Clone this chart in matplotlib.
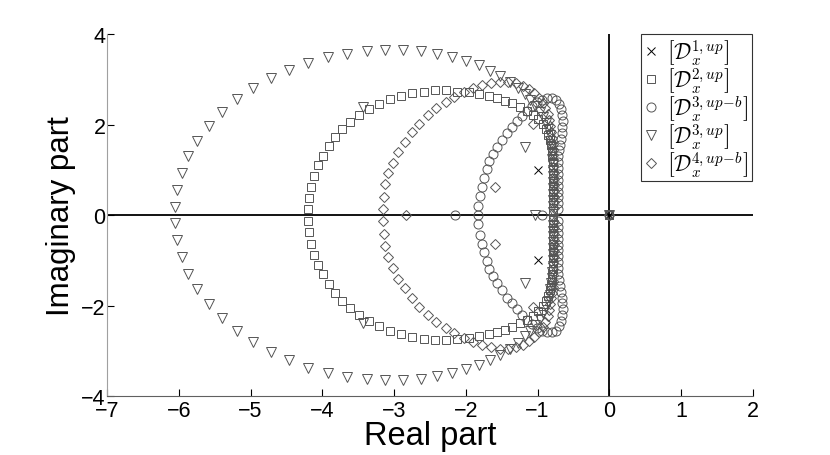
import matplotlib
matplotlib.use("Agg")
import matplotlib.pyplot as plt

plt.rcParams['font.family'] = ['Liberation Sans', 'DejaVu Sans']
plt.rcParams['mathtext.fontset'] = 'cm'

# ---- data (upper half-plane eigenvalues; lower half are complex conjugates) ----
# [D_x^{1,up}]
x1_re = [-1.0]
x1_im = [1.0]
x1_real_axis = [0.0]

# [D_x^{2,up}]  squares
s_re = [-4.20, -4.18, -4.16, -4.11, -4.06, -3.99, -3.91, -3.82, -3.72, -3.61, -3.49, -3.35,
        -3.21, -3.06, -2.90, -2.75, -2.58, -2.43, -2.27, -2.12, -1.96, -1.81, -1.68, -1.57,
        -1.46, -1.35, -1.25, -1.15, -1.07, -0.99, -0.93, -0.88, -0.85, -0.83, -0.81, -0.80,
        -0.80, -0.79, -0.79, -0.79, -0.79, -0.78, -0.78, -0.78, -0.78, -0.78, -0.78]
s_im = [0.13, 0.38, 0.63, 0.87, 1.10, 1.31, 1.52, 1.72, 1.90, 2.06, 2.21, 2.34,
        2.45, 2.56, 2.63, 2.69, 2.73, 2.76, 2.76, 2.73, 2.71, 2.67, 2.63, 2.58,
        2.53, 2.47, 2.39, 2.31, 2.22, 2.12, 2.01, 1.90, 1.78, 1.66, 1.54, 1.42,
        1.30, 1.18, 1.06, 0.94, 0.82, 0.70, 0.58, 0.46, 0.34, 0.22, 0.10]
s_real_axis = [0.0]

# [D_x^{3,up-b}]  circles
c_re = [-1.83, -1.80, -1.78, -1.75, -1.71, -1.67, -1.62, -1.56, -1.50, -1.43, -1.36, -1.29,
        -1.22, -1.15, -1.08, -1.01, -0.94, -0.87, -0.80, -0.74, -0.70, -0.67, -0.655, -0.65,
        -0.655, -0.665, -0.68, -0.69, -0.70, -0.71, -0.71, -0.72, -0.72, -0.72, -0.72, -0.72,
        -0.72, -0.72, -0.72]
c_im = [0.20, 0.43, 0.63, 0.82, 1.01, 1.19, 1.35, 1.51, 1.66, 1.82, 1.95, 2.08,
        2.20, 2.31, 2.41, 2.49, 2.55, 2.59, 2.59, 2.55, 2.46, 2.34, 2.21, 2.08,
        1.95, 1.82, 1.69, 1.56, 1.43, 1.30, 1.17, 1.04, 0.91, 0.78, 0.65, 0.52,
        0.39, 0.26, 0.13]
c_real_axis = [-2.15, -1.83, -0.94, 0.0]

# [D_x^{3,up}]  triangles
t_re = [-6.05, -6.02, -5.96, -5.87, -5.74, -5.58, -5.40, -5.19, -4.97, -4.72, -4.46, -4.20,
        -3.92, -3.65, -3.38, -3.12, -2.87, -2.63, -2.40, -2.19, -2.00, -1.82, -1.66, -1.52,
        -1.39, -1.27, -1.18, -1.10, -1.03, -0.97, -0.92, -0.88, -0.85, -0.83, -0.82, -0.81,
        -0.80, -0.80, -0.79, -0.79, -0.79, -0.78, -0.78, -0.78, -0.78, -0.78, -0.78,
        -3.43, -1.17]
t_im = [0.17, 0.55, 0.93, 1.30, 1.64, 1.97, 2.28, 2.56, 2.81, 3.03, 3.21, 3.37,
        3.49, 3.57, 3.62, 3.65, 3.65, 3.62, 3.56, 3.49, 3.41, 3.31, 3.19, 3.08,
        2.95, 2.82, 2.68, 2.55, 2.42, 2.29, 2.16, 2.03, 1.90, 1.77, 1.64, 1.51,
        1.38, 1.25, 1.12, 0.99, 0.86, 0.73, 0.60, 0.47, 0.34, 0.21, 0.08,
        2.39, 1.51]
t_real_axis = [-1.03, 0.0]

# [D_x^{4,up-b}]  diamonds
d_re = [-3.15, -3.14, -3.12, -3.08, -3.02, -2.94, -2.85, -2.755, -2.65, -2.53, -2.41, -2.28,
        -2.16, -2.03, -1.905, -1.78, -1.65, -1.53, -1.41, -1.30, -1.20, -1.12, -1.05, -0.98,
        -0.93, -0.89, -0.86, -0.84, -0.82, -0.81, -0.80, -0.79, -0.79, -0.78, -0.78, -0.78,
        -0.77, -0.77, -0.77, -0.77, -0.77, -0.77, -0.77,
        -1.06, -1.59]
d_im = [0.13, 0.41, 0.68, 0.93, 1.16, 1.40, 1.62, 1.83, 2.02, 2.21, 2.36, 2.50,
        2.61, 2.72, 2.80, 2.87, 2.92, 2.95, 2.95, 2.92, 2.86, 2.78, 2.69, 2.59,
        2.48, 2.36, 2.23, 2.10, 1.97, 1.84, 1.71, 1.58, 1.45, 1.32, 1.19, 1.06,
        0.93, 0.80, 0.67, 0.54, 0.41, 0.28, 0.15,
        2.02, 0.63]
d_real_axis = [-2.83, 0.0]

labels = [r'$\left[\mathcal{D}_x^{1,up}\right]$',
          r'$\left[\mathcal{D}_x^{2,up}\right]$',
          r'$\left[\mathcal{D}_x^{3,up\!-\!b}\right]$',
          r'$\left[\mathcal{D}_x^{3,up}\right]$',
          r'$\left[\mathcal{D}_x^{4,up\!-\!b}\right]$']

x_ticks = [-7, -6, -5, -4, -3, -2, -1, 0, 1, 2]
y_ticks = [-4, -2, 0, 2, 4]


def full(re, im, axis):
    xs = list(re) + list(re) + list(axis)
    ys = list(im) + [-v for v in im] + [0.0] * len(axis)
    return xs, ys


fig = plt.figure(figsize=(8.30, 4.56), dpi=100)
ax = fig.add_axes([0.129, 0.129, 0.778, 0.794])

ax.axhline(0, color='black', lw=1.3, zorder=1)
ax.axvline(0, color='black', lw=1.3, zorder=1)

gray = '#555555'
series = [
    (x1_re, x1_im, x1_real_axis, 'x', 5.5, 'black'),
    (s_re, s_im, s_real_axis, 's', 5.5, gray),
    (c_re, c_im, c_real_axis, 'o', 6.5, gray),
    (t_re, t_im, t_real_axis, 'v', 7.0, gray),
    (d_re, d_im, d_real_axis, 'D', 5.5, gray),
]
for (re, im, axis, mk, ms, col), lab in zip(series, labels):
    xs, ys = full(re, im, axis)
    ax.plot(xs, ys, linestyle='none', marker=mk, markersize=ms,
            markerfacecolor='none', markeredgecolor=col, markeredgewidth=0.7,
            label=lab, zorder=3)

ax.set_xlim(-7, 2)
ax.set_ylim(-4, 4)
ax.set_xticks(x_ticks)
ax.set_yticks(y_ticks)
ax.tick_params(direction='in', length=5, width=0.8, labelsize=15.5, colors='black')
ax.tick_params(axis='y', pad=1)
ax.tick_params(axis='x', pad=3)
for s in ['top', 'right']:
    ax.spines[s].set_visible(False)
ax.spines['left'].set_color('#a0a0a0')
ax.spines['bottom'].set_color('#606060')

ax.set_xlabel('Real part', fontsize=23.5, labelpad=-1)
ax.set_ylabel('Imaginary part', fontsize=22.5, labelpad=4)

leg = ax.legend(loc='upper right', bbox_to_anchor=(0.998, 1.0), borderaxespad=0,
                fontsize=15.5, frameon=True, fancybox=False, edgecolor='black',
                handlelength=0.6, handletextpad=0.45, labelspacing=-0.05,
                borderpad=0.15, numpoints=1)
leg.get_frame().set_linewidth(0.8)

fig.savefig('out.png', dpi=100)
